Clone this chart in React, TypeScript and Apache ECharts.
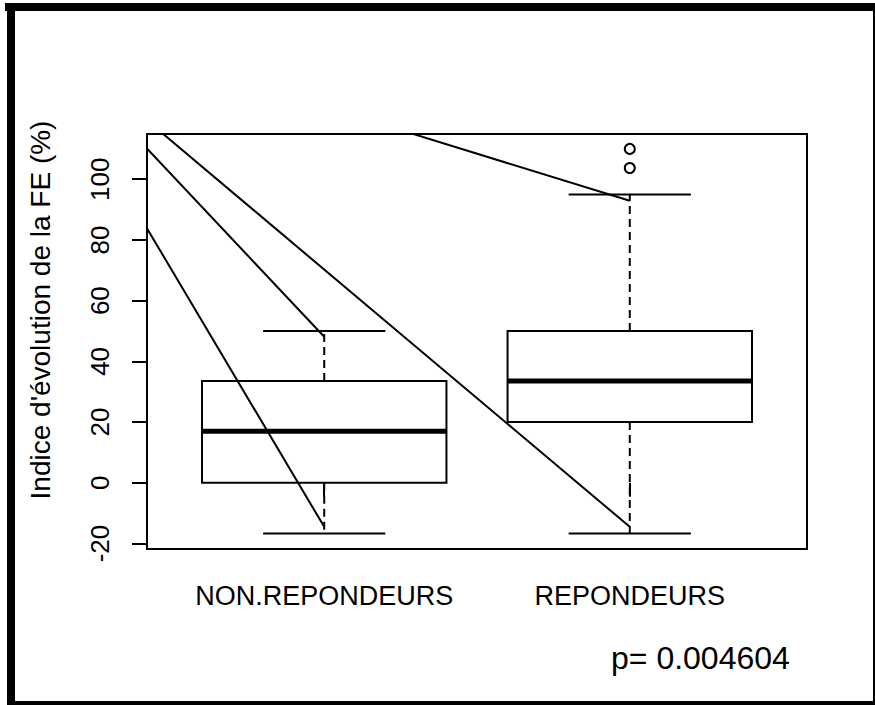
import React, { useEffect, useRef } from "react";
import * as echarts from "echarts";

// Groups and five-number summaries (whisker low, Q1, median, Q3, whisker high)
const groups = ["NON.REPONDEURS", "REPONDEURS"];
const whiskerLow = [-16.7, -16.7];
const q1 = [0, 20];
const median = [17, 33.5];
const q3 = [33.5, 50];
const whiskerHigh = [50, 95];

// Outlying observations: [group position, value]
const outliers = [
  [2, 103.7],
  [2, 110],
];

// Pointer segments drawn from one common origin towards the whisker ends
const pointerOrigin = [0, 155];
const pointerTargets = [
  [1, 48.1],
  [1, -14.5],
  [2, 92.9],
  [2, -14.5],
];

const yTicks = [-20, 0, 20, 40, 60, 80, 100];
const xTicks = [1, 2];
const yTitle = "Indice d'évolution de la FE (%)";
const pText = "p= 0.004604";

const FONT = "'Liberation Sans', Arial, Helvetica, sans-serif";

export default function App() {
  const ref = useRef<HTMLDivElement>(null);

  useEffect(() => {
    if (!ref.current) return;
    const chart = echarts.init(ref.current, null, { renderer: "svg" });

    const boxData = groups.map((_, i) => [
      i + 1,
      whiskerLow[i],
      q1[i],
      median[i],
      q3[i],
      whiskerHigh[i],
    ]);

    const pointerSeries = pointerTargets.map((t) => ({
      type: "line",
      data: [pointerOrigin, t],
      showSymbol: false,
      symbol: "none",
      clip: true,
      silent: true,
      lineStyle: { color: "#000", width: 2 },
      z: 5,
    }));

    chart.setOption({
      animation: false,
      backgroundColor: "#fff",
      grid: {
        left: 147,
        top: 134,
        width: 660,
        height: 415,
        show: true,
        borderColor: "#000",
        borderWidth: 2,
        backgroundColor: "transparent",
      },
      xAxis: {
        type: "value",
        min: 0.42,
        max: 2.58,
        splitLine: { show: false },
        axisLine: { show: false },
        axisTick: {
          show: true,
          length: 14,
          customValues: xTicks,
          lineStyle: { color: "#000", width: 2 },
        },
        axisLabel: {
          customValues: xTicks,
          formatter: (v: number) => groups[Math.round(v) - 1] ?? "",
          color: "#000",
          fontFamily: FONT,
          fontSize: 27,
          margin: 33,
        },
      },
      yAxis: {
        type: "value",
        min: -21.8,
        max: 114.9,
        splitLine: { show: false },
        axisLine: { show: false },
        axisTick: {
          show: true,
          length: 15,
          customValues: yTicks,
          lineStyle: { color: "#000", width: 2 },
        },
        axisLabel: {
          customValues: yTicks,
          rotate: 90,
          color: "#000",
          fontFamily: FONT,
          fontSize: 26,
          margin: 34,
        },
      },
      series: [
        {
          type: "custom",
          data: boxData,
          z: 3,
          renderItem: (params: any, api: any) => {
            const x = api.value(0);
            const [cx, yLo] = api.coord([x, api.value(1)]);
            const yQ1 = api.coord([x, api.value(2)])[1];
            const yMed = api.coord([x, api.value(3)])[1];
            const yQ3 = api.coord([x, api.value(4)])[1];
            const yHi = api.coord([x, api.value(5)])[1];
            const half = api.size([0.4, 0])[0];
            const staple = half / 2;
            const thin = { stroke: "#000", lineWidth: 2, fill: null };
            const dashed = { stroke: "#000", lineWidth: 2, lineDash: [8, 5] };
            return {
              type: "group",
              children: [
                {
                  type: "line",
                  shape: { x1: cx, y1: yQ3, x2: cx, y2: yHi },
                  style: dashed,
                },
                {
                  type: "line",
                  shape: { x1: cx, y1: yQ1, x2: cx, y2: yLo },
                  style: dashed,
                },
                {
                  type: "line",
                  shape: { x1: cx - staple, y1: yHi, x2: cx + staple, y2: yHi },
                  style: thin,
                },
                {
                  type: "line",
                  shape: { x1: cx - staple, y1: yLo, x2: cx + staple, y2: yLo },
                  style: thin,
                },
                {
                  type: "rect",
                  shape: { x: cx - half, y: yQ3, width: half * 2, height: yQ1 - yQ3 },
                  style: { stroke: "#000", lineWidth: 2, fill: "rgba(0,0,0,0)" },
                },
                {
                  type: "line",
                  shape: { x1: cx - half, y1: yMed, x2: cx + half, y2: yMed },
                  style: { stroke: "#000", lineWidth: 5 },
                },
              ],
            };
          },
        },
        {
          type: "scatter",
          data: outliers,
          symbol: "circle",
          symbolSize: 10,
          clip: false,
          itemStyle: { color: "#fff", borderColor: "#000", borderWidth: 2, opacity: 1 },
          z: 6,
        },
        ...pointerSeries,
      ],
      graphic: [
        { type: "rect", shape: { x: 5, y: 3, width: 870, height: 8 }, style: { fill: "#000" } },
        { type: "rect", shape: { x: 7, y: 3, width: 8, height: 702 }, style: { fill: "#000" } },
        { type: "rect", shape: { x: 7, y: 701, width: 868, height: 4 }, style: { fill: "#000" } },
        { type: "rect", shape: { x: 873, y: 3, width: 2, height: 702 }, style: { fill: "#000" } },
        {
          type: "text",
          x: 54,
          y: 310,
          rotation: Math.PI / 2,
          style: {
            text: yTitle,
            fill: "#000",
            font: `28px ${FONT}`,
            textAlign: "center",
            textVerticalAlign: "bottom",
          },
        },
        {
          type: "text",
          x: 611,
          y: 642,
          style: {
            text: pText,
            fill: "#000",
            font: `32px ${FONT}`,
            textVerticalAlign: "top",
          },
        },
      ],
    });

    return () => chart.dispose();
  }, []);

  return (
    <div
      ref={ref}
      style={{ position: "absolute", left: 0, top: 0, width: 875, height: 705 }}
    />
  );
}
